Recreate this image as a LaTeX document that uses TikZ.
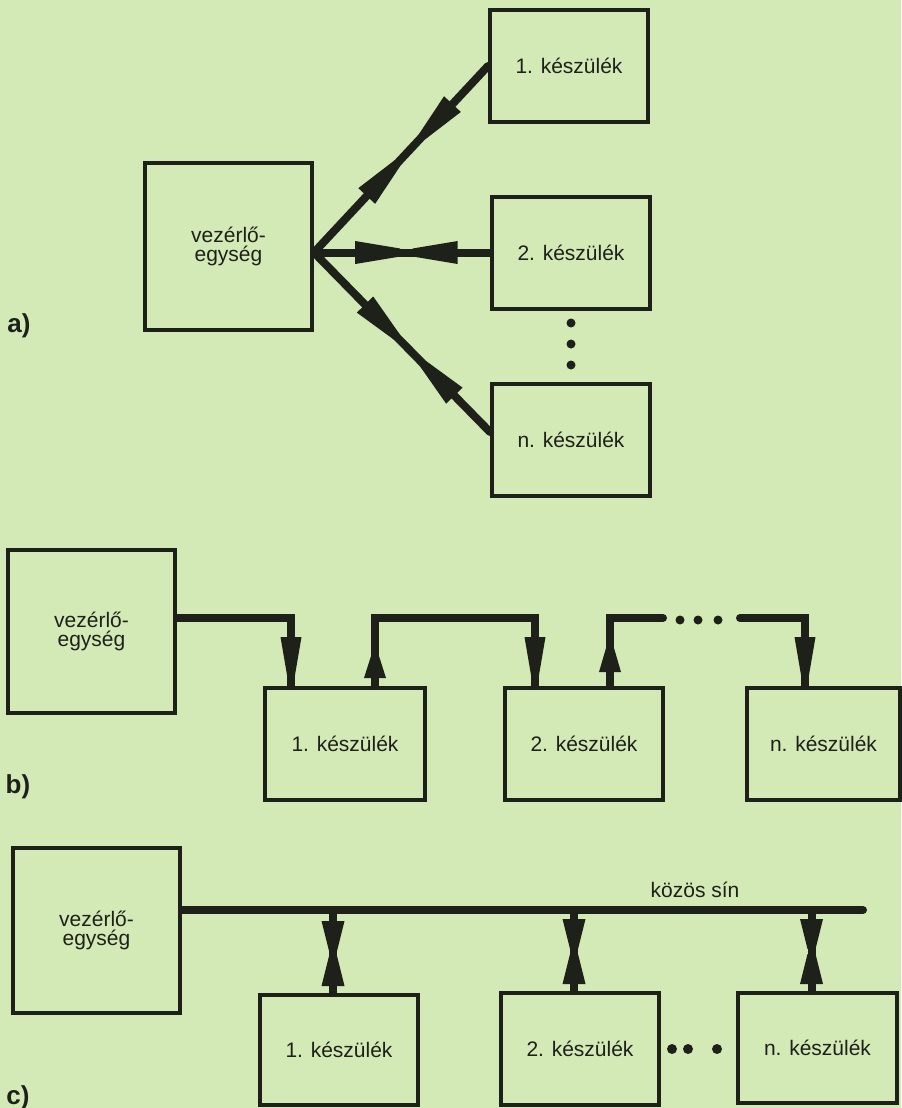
\documentclass[tikz,border=0pt]{standalone}
\usepackage{fontspec}
\setmainfont{Liberation Sans}
\usetikzlibrary{decorations.markings}

\definecolor{paper}{RGB}{212,234,182}
\definecolor{ink}{RGB}{30,32,26}

\tikzset{
  unit/.style={draw=ink, line width=2pt, minimum width=79pt, minimum height=56pt,
    inner sep=0pt, text=ink, font=\fontsize{10.5}{12}\selectfont},
  ctrl/.style={unit, minimum width=83.5pt, minimum height=83.5pt, align=center,
    font=\fontsize{10.5}{9.5}\selectfont},
  note/.style={inner sep=0pt, text=ink, font=\fontsize{10.5}{12}\selectfont},
  partlabel/.style={inner sep=0pt, text=ink, font=\fontsize{13}{15}\selectfont\bfseries},
  link/.style={color=ink, line width=4pt, line cap=round},
  dot/.style={circle, fill=ink, inner sep=0pt, minimum size=4.5pt},
  % wedge heads: tip as wide as the line, base #3 pt long behind it
  twoway/.style n args={4}{postaction={decorate,decoration={markings,
      mark=at position #1 with {\fill (0pt,2pt) -- (0pt,-2pt) -- (-#3,-#4) -- (-#3,#4) -- cycle;},
      mark=at position #2 with {\fill (0pt,2pt) -- (0pt,-2pt) -- (#3,-#4) -- (#3,#4) -- cycle;}}}},
  oneway/.style n args={3}{postaction={decorate,decoration={markings,
      mark=at position #1 with {\fill (0pt,2pt) -- (0pt,-2pt) -- (-#2,-#3) -- (-#2,#3) -- cycle;}}}},
}

\begin{document}
\begin{tikzpicture}[x=0.5pt,y=-0.5pt]
\path[use as bounding box, fill=paper] (0,0) rectangle (901,1108);

% a) every device on its own line
\node[ctrl] (ctrlA) at (228.5,246.5) {vezérlő-\\egység};
\node[unit] (devA1) at (569,66) {1. készülék};
\node[unit] (devA2) at (571,252.5) {2. készülék};
\node[unit] (devAn) at (571,440) {n. készülék};
\coordinate (hubA) at ([yshift=-3pt]ctrlA.east);
\foreach \y [count=\i] in {323,344,365}
  \node[dot] (dotA\i) at (571,\y) {};
\node[partlabel] (labA) at (19,326) {a)};

\draw[link, twoway={0.48}{0.62}{22.5pt}{5.75pt}] (hubA) -- (devA1.west);
\draw[link, twoway={0.49}{0.56}{22.5pt}{5.75pt}] (hubA) -- (devA2.west);
\draw[link, twoway={0.47}{0.62}{22.5pt}{5.75pt}] (hubA) -- ([yshift=4pt]devAn.west);

% b) daisy chain
\node[ctrl, minimum height=81.5pt] (ctrlB) at (91.5,631.5) {vezérlő-\\egység};
\node[unit, minimum width=80pt] (devB1) at (345,744) {1. készülék};
\node[unit] (devB2) at (584,744) {2. készülék};
\node[unit, minimum width=76.5pt] (devBn) at (823.5,744) {n. készülék};
\coordinate (railB) at (0,618);
\coordinate (gapL) at (663,618);
\coordinate (gapR) at (740,618);
\coordinate (inB1) at ([xshift=-27pt]devB1.north);
\coordinate (outB1) at ([xshift=15pt]devB1.north);
\coordinate (inB2) at ([xshift=-24.5pt]devB2.north);
\coordinate (outB2) at ([xshift=13pt]devB2.north);
\coordinate (inBn) at ([xshift=-9.25pt]devBn.north);
\foreach \x [count=\i] in {680,698,718}
  \node[dot] (dotB\i) at (\x,620) {};
\node[partlabel] (labB) at (18,787) {b)};

\draw[link, oneway={-5.5pt}{19pt}{5.25pt}] (ctrlB.east |- railB) -| (inB1);
\draw[link, oneway={15pt}{11pt}{5.5pt}, oneway={-5.5pt}{19pt}{5.25pt}]
  (outB1) |- (railB -| inB2) -- (inB2);
\draw[link, oneway={19pt}{12pt}{5.5pt}] (outB2) |- (gapL);
\draw[link, oneway={-5.5pt}{19pt}{5.25pt}] (gapR) -| (inBn);

% c) common bus
\node[ctrl, minimum height=82.5pt] (ctrlC) at (96.5,930.5) {vezérlő-\\egység};
\node[unit, minimum height=55pt] (devC1) at (339,1050) {1. készülék};
\node[unit] (devC2) at (580,1049) {2. készülék};
\node[unit, minimum width=79.5pt, minimum height=55pt] (devCn) at (817.5,1048) {n. készülék};
\coordinate (busEnd) at (863,910);
\node[note] (busLabel) at (695,890) {közös sín};
\foreach \x [count=\i] in {672,688,717}
  \node[dot, minimum size=5pt] (dotC\i) at (\x,1049) {};
\node[partlabel] (labC) at (18,1098) {c)};

\draw[link] (ctrlC.east |- busEnd) -- (busEnd);
\foreach \d in {1,2,n} {
  \coordinate (tapC\d) at ([xshift=-3pt]devC\d.north);
  \draw[link, twoway={18.5pt}{21pt}{15pt}{5.75pt}] (tapC\d) -- (tapC\d |- busEnd);
}
\end{tikzpicture}
\end{document}
